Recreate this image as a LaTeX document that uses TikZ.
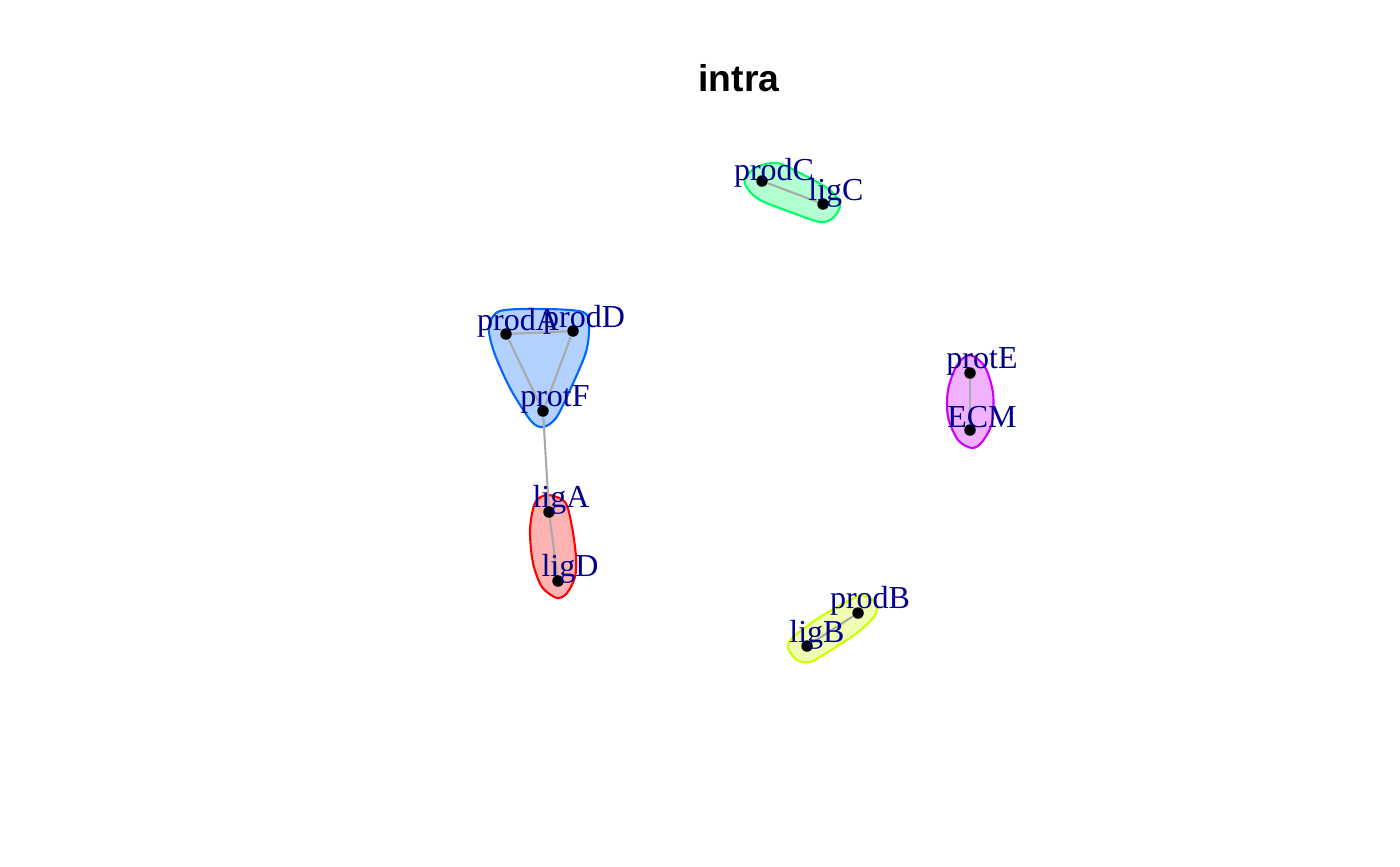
\documentclass[tikz,border=0pt]{standalone}
\usepackage{fontspec}
\setmainfont{Liberation Serif}
\newfontfamily\titlefont{Liberation Sans}
\definecolor{labelblue}{HTML}{00008B}
\definecolor{edgegray}{HTML}{A9A9A9}
\definecolor{grpred}{HTML}{FF0000}
\definecolor{grpyel}{HTML}{CCFF00}
\definecolor{grpgrn}{HTML}{00FF66}
\definecolor{grpblu}{HTML}{0066FF}
\definecolor{grpmag}{HTML}{CC00FF}
\tikzset{
  vert/.style={circle, fill=black, inner sep=0pt, minimum size=0.115cm},
  vlabel/.style={text=labelblue, font=\fontsize{9.1}{10}\selectfont, anchor=base, inner sep=0pt},
  edge/.style={draw=edgegray, line width=0.6pt},
  hull/.style={draw=#1, fill=#1!30, line width=0.6pt},
}
\begin{document}
\begin{tikzpicture}[x=0.01cm, y=-0.01cm]
    \useasboundingbox (0,0) rectangle (1400,866);

    % Title
    \node[font=\titlefont\bfseries\fontsize{10.6}{12}\selectfont, anchor=base] (title) at (739,91) {intra};

    % Group hulls
    \draw[hull=grpblu] plot[smooth cycle] coordinates {(500,311) (545,309) (583,312) (589,325) (586,352) (570,390) (556,418) (543,427) (531,421) (510,388) (494,352) (489,327)};
    \draw[hull=grpred] plot[smooth cycle] coordinates {(547,495) (565,502) (572,527) (576,557) (575,577) (567,593) (557,598) (542,587) (533,563) (530,530) (535,503)};
    \draw[hull=grpgrn] plot[smooth cycle] coordinates {(745,178) (757,167) (777,163) (800,173) (830,190) (840,205) (833,218) (820,222) (793,213) (760,200) (747,188)};
    \draw[hull=grpmag] plot[smooth cycle] coordinates {(970,355) (985,367) (993,393) (992,423) (982,442) (972,448) (958,440) (948,417) (948,390) (957,365)};
    \draw[hull=grpyel] plot[smooth cycle] coordinates {(862,595) (873,600) (877,609) (873,618) (857,633) (828,652) (810,662) (797,660) (788,648) (793,637) (820,617) (850,600)};

    % Vertices
    \node[vert] (prodA) at (506,334) {};
    \node[vert] (prodD) at (573,331) {};
    \node[vert] (protF) at (543,411) {};
    \node[vert] (ligA) at (549,512) {};
    \node[vert] (ligD) at (558,581) {};
    \node[vert] (prodC) at (762,181) {};
    \node[vert] (ligC) at (823,204) {};
    \node[vert] (protE) at (970,373) {};
    \node[vert] (ECM) at (970,430) {};
    \node[vert] (prodB) at (858,613) {};
    \node[vert] (ligB) at (807,646) {};

    % Edges
    \draw[edge] (prodA) -- (prodD);
    \draw[edge] (prodA) -- (protF);
    \draw[edge] (prodD) -- (protF);
    \draw[edge] (protF) -- (ligA);
    \draw[edge] (ligA) -- (ligD);
    \draw[edge] (prodC) -- (ligC);
    \draw[edge] (protE) -- (ECM);
    \draw[edge] (prodB) -- (ligB);

    % Labels
    \node[vlabel] (prodA-l) at ([shift={(12,-4)}]prodA) {prodA};
    \node[vlabel] (prodD-l) at ([shift={(11,-4)}]prodD) {prodD};
    \node[vlabel] (protF-l) at ([shift={(12,-5)}]protF) {protF};
    \node[vlabel] (ligA-l) at ([shift={(12,-5)}]ligA) {ligA};
    \node[vlabel] (ligD-l) at ([shift={(12,-5)}]ligD) {ligD};
    \node[vlabel] (prodC-l) at ([shift={(12,-1)}]prodC) {prodC};
    \node[vlabel] (ligC-l) at ([shift={(13,-4)}]ligC) {ligC};
    \node[vlabel] (protE-l) at ([shift={(12,-5)}]protE) {protE};
    \node[vlabel] (ECM-l) at ([shift={(12,-3)}]ECM) {ECM};
    \node[vlabel] (prodB-l) at ([shift={(12,-5)}]prodB) {prodB};
    \node[vlabel] (ligB-l) at ([shift={(10,-4)}]ligB) {ligB};
\end{tikzpicture}
\end{document}
